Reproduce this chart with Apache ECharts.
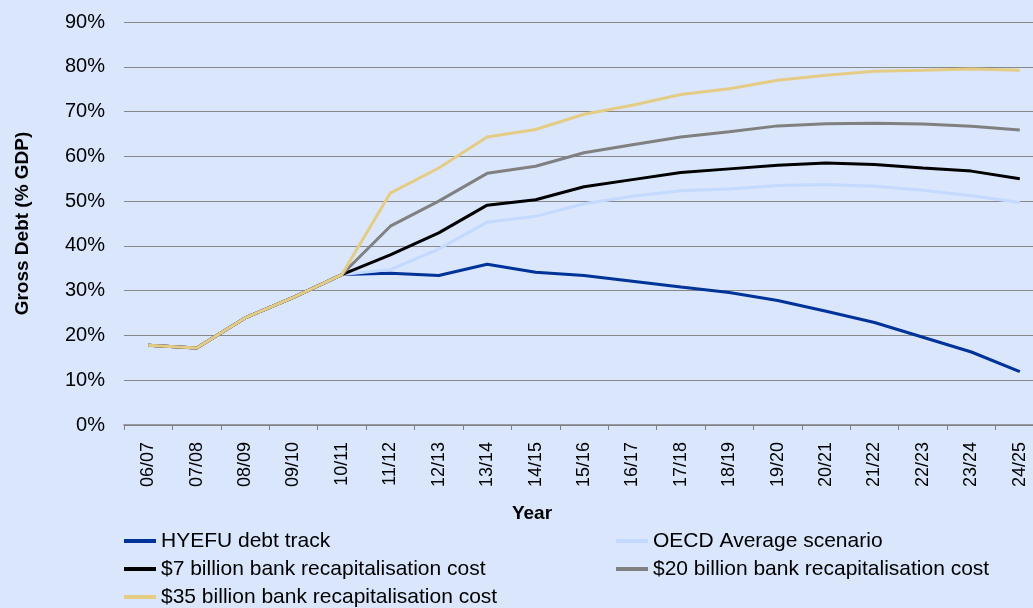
<!DOCTYPE html>
<html>
<head>
<meta charset="utf-8">
<script src="https://cdn.jsdelivr.net/npm/echarts@6/dist/echarts.min.js"></script>
<style>
  html, body { margin: 0; padding: 0; background: #d9e6fc; }
  #main { width: 1033px; height: 608px; }
</style>
</head>
<body>
<div id="main"></div>
<script>
// financial years on the x axis
const years = ['06/07', '07/08', '08/09', '09/10', '10/11', '11/12', '12/13', '13/14', '14/15', '15/16',
  '16/17', '17/18', '18/19', '19/20', '20/21', '21/22', '22/23', '23/24', '24/25'];

// gross debt, % of GDP
const hyefu = [17.8, 17.2, 23.9, 28.5, 33.6, 33.9, 33.4, 35.9, 34.1, 33.4, 32.1, 30.8, 29.6, 27.8, 25.4, 22.9, 19.6, 16.3, 11.9];
const oecd = [17.8, 17.2, 23.9, 28.5, 33.6, 34.7, 39.3, 45.3, 46.6, 49.4, 51.1, 52.3, 52.7, 53.5, 53.7, 53.3, 52.4, 51.2, 49.7];
const bn7 = [17.8, 17.2, 23.9, 28.5, 33.6, 38.0, 42.9, 49.1, 50.3, 53.2, 54.8, 56.4, 57.2, 58.0, 58.5, 58.2, 57.4, 56.7, 55.0];
const bn20 = [17.8, 17.2, 23.9, 28.5, 33.6, 44.4, 50.0, 56.2, 57.8, 60.8, 62.6, 64.3, 65.5, 66.8, 67.3, 67.4, 67.2, 66.7, 65.9];
const bn35 = [17.8, 17.2, 23.9, 28.5, 33.6, 51.8, 57.4, 64.3, 66.0, 69.4, 71.4, 73.8, 75.1, 77.0, 78.1, 79.0, 79.2, 79.5, 79.2];

const names = ['HYEFU debt track', 'OECD Average scenario', '$7 billion bank recapitalisation cost',
  '$20 billion bank recapitalisation cost', '$35 billion bank recapitalisation cost'];
const colors = ['#003399', '#c4d9ff', '#000000', '#808080', '#e5cc85'];
const font = 'Liberation Sans, Arial, sans-serif';

const legendBase = {
  orient: 'vertical',
  top: 530,
  padding: 0,
  icon: 'rect',
  itemWidth: 32,
  itemHeight: 4,
  itemGap: 6,
  textStyle: { fontFamily: font, fontSize: 21, color: '#000', lineHeight: 22 },
};

const option = {
  animation: false,
  backgroundColor: '#d9e6fc',
  color: colors,
  title: {
    text: 'Year',
    left: 532,
    top: 504,
    textAlign: 'center',
    padding: 0,
    textStyle: { fontFamily: font, fontSize: 19, fontWeight: 'bold', color: '#000' },
  },
  legend: [
    Object.assign({}, legendBase, { left: 124, data: [names[0], names[2], names[4]] }),
    Object.assign({}, legendBase, { left: 616, data: [names[1], names[3]] }),
  ],
  grid: {
    left: 124,
    top: 22,
    width: 920,
    height: 403,
    outerBoundsMode: 'none',
  },
  xAxis: {
    type: 'category',
    data: years,
    boundaryGap: true,
    axisLine: { lineStyle: { color: '#808080', width: 1.5 } },
    axisTick: { show: true, length: 5, lineStyle: { color: '#808080' } },
    axisLabel: { rotate: 90, margin: 17, fontFamily: font, fontSize: 18, color: '#000', interval: 0 },
  },
  yAxis: {
    type: 'value',
    min: 0,
    max: 90,
    interval: 10,
    name: 'Gross Debt (% GDP)',
    nameLocation: 'middle',
    nameGap: 92,
    nameTextStyle: { fontFamily: font, fontSize: 19, fontWeight: 'bold', color: '#000' },
    axisLine: { show: false },
    axisTick: { show: false },
    axisLabel: { formatter: '{value}%', margin: 19, fontFamily: font, fontSize: 20, color: '#000' },
    splitLine: { lineStyle: { color: '#888888', width: 1 } },
  },
  series: [
    { name: names[0], type: 'line', data: hyefu },
    { name: names[1], type: 'line', data: oecd },
    { name: names[2], type: 'line', data: bn7 },
    { name: names[3], type: 'line', data: bn20 },
    { name: names[4], type: 'line', data: bn35 },
  ].map(s => Object.assign(s, { symbol: 'none', lineStyle: { width: 3 } })),
};

const myChart = echarts.init(document.getElementById('main'));
myChart.setOption(option);
</script>
</body>
</html>
